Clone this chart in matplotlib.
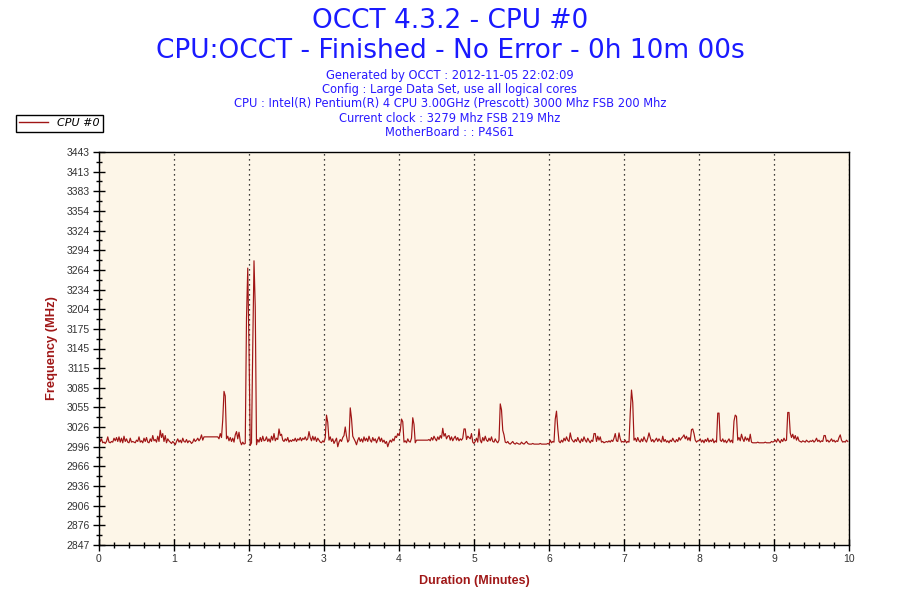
import numpy as np
import matplotlib.pyplot as plt
from matplotlib.lines import Line2D
from matplotlib.ticker import MultipleLocator

# --- data (one sample per second, 10 minutes) ---
title_lines = ['OCCT 4.3.2 - CPU #0',
               'CPU:OCCT - Finished - No Error - 0h 10m 00s']
info_lines = ['Generated by OCCT : 2012-11-05 22:02:09',
              'Config : Large Data Set, use all logical cores',
              'CPU : Intel(R) Pentium(R) 4 CPU 3.00GHz (Prescott) 3000 Mhz FSB 200 Mhz',
              'Current clock : 3279 Mhz FSB 219 Mhz',
              'MotherBoard : : P4S61']
series_name = 'CPU #0'
y_tick_labels = ['2847', '2876', '2906', '2936', '2966', '2996', '3026', '3055',
                 '3085', '3115', '3145', '3175', '3204', '3234', '3264', '3294',
                 '3324', '3354', '3383', '3413', '3443']

freq_mhz = [
    # minute 0
    3011, 3004, 3008, 3002, 3003, 3001, 3004, 3011, 3003, 3002,
    3004, 3003, 3009, 3005, 3010, 3004, 3011, 3003, 3009, 3002,
    3012, 3004, 3008, 3003, 3002, 3009, 3003, 3004, 3003, 3002,
    3006, 3004, 3011, 3003, 3005, 3002, 3009, 3004, 3010, 3003,
    3002, 3008, 3004, 3013, 3005, 3007, 3003, 3012, 3004, 3021,
    3010, 3016, 3004, 3013, 3002, 3008, 3005, 3003, 3001, 3004,
    # minute 1
    3002, 2999, 3004, 3008, 3003, 3006, 3002, 3009, 3004, 3003,
    3007, 3002, 3005, 3004, 3001, 3003, 3008, 3004, 3006, 3009,
    3005, 3008, 3014, 3006, 3011, 3011, 3011, 3011, 3011, 3011,
    3011, 3011, 3011, 3011, 3011, 3011, 3008, 3016, 3010, 3037,
    3080, 3073, 3008, 3012, 3005, 3010, 3004, 3009, 3003, 3014,
    3019, 3008, 3018, 3004, 2999, 3003, 3000, 3001, 3191, 3267,
    # minute 2
    3146, 2998, 3002, 3147, 3278, 3208, 2999, 3007, 3003, 3010,
    3004, 3012, 3005, 3006, 3011, 3004, 3008, 3003, 3012, 3006,
    3016, 3005, 3009, 3007, 3023, 3013, 3015, 3006, 3004, 3008,
    3005, 3010, 3003, 3006, 3004, 3007, 3005, 3009, 3004, 3008,
    3006, 3010, 3005, 3009, 3007, 3011, 3006, 3008, 3019, 3010,
    3005, 3012, 3006, 3011, 3004, 3009, 3006, 3003, 3002, 3005,
    # minute 3
    3003, 3010, 3044, 3033, 3006, 3011, 3004, 3008, 3001, 3005,
    3009, 2996, 3003, 3007, 3004, 3010, 3013, 3026, 3012, 3003,
    3006, 3055, 3039, 3012, 3008, 3004, 2999, 3006, 3010, 3004,
    3008, 3003, 3011, 3005, 3009, 3004, 3012, 3006, 3003, 3010,
    3005, 3008, 3002, 3007, 3011, 3004, 3009, 3003, 3006, 3001,
    3004, 2996, 3002, 3006, 3003, 3008, 3005, 3012, 3010, 3016,
    # minute 4
    3013, 3020, 3038, 3034, 3003, 3005, 3002, 3008, 3004, 3003,
    3009, 3040, 3030, 3002, 3006, 3006, 3006, 3006, 3006, 3006,
    3006, 3006, 3006, 3006, 3007, 3005, 3010, 3006, 3012, 3008,
    3005, 3011, 3007, 3013, 3009, 3024, 3012, 3016, 3008, 3012,
    3013, 3006, 3011, 3005, 3009, 3012, 3006, 3010, 3005, 3008,
    3006, 3009, 3023, 3023, 3007, 3012, 3010, 3008, 3016, 3003,
    # minute 5
    3001, 3004, 3009, 3003, 3023, 3006, 3002, 3010, 3005, 3012,
    3006, 3004, 3009, 3005, 3011, 3004, 3003, 3008, 3004, 3002,
    3006, 3061, 3052, 3021, 3014, 3003, 3002, 3004, 3001, 3000,
    3002, 3004, 3001, 3000, 3002, 3001, 3000, 3000, 3003, 3001,
    3000, 3002, 3004, 3001, 3000, 3000, 3000, 3001, 3000, 3000,
    3000, 3000, 3000, 3001, 3000, 3000, 3000, 3000, 3000, 3001,
    # minute 6
    3000, 3006, 3002, 3004, 3003, 3038, 3050, 3024, 3004, 3002,
    3006, 3003, 3009, 3005, 3011, 3006, 3004, 3017, 3008, 3005,
    3003, 3007, 3004, 3010, 3005, 3002, 3008, 3004, 3011, 3006,
    3003, 3009, 3005, 3002, 3006, 3004, 3016, 3016, 3004, 3012,
    3006, 3011, 3003, 3004, 3002, 3003, 3004, 3003, 3005, 3003,
    3006, 3004, 3009, 3016, 3005, 3004, 3017, 3008, 3003, 3004,
    # minute 7
    3003, 3006, 3002, 3004, 3003, 3047, 3082, 3063, 3006, 3009,
    3004, 3010, 3005, 3003, 3008, 3004, 3011, 3006, 3003, 3009,
    3017, 3010, 3004, 3007, 3003, 3006, 3009, 3004, 3008, 3005,
    3003, 3012, 3004, 3007, 3003, 3005, 3002, 3006, 3004, 3009,
    3005, 3003, 3007, 3004, 3010, 3006, 3009, 3011, 3014, 3008,
    3012, 3006, 3010, 3005, 3022, 3023, 3016, 3006, 3003, 3005,
    # minute 8
    3005, 3008, 3003, 3006, 3002, 3007, 3004, 3009, 3003, 3006,
    3004, 3008, 3002, 3005, 3003, 3047, 3047, 3006, 3004, 3008,
    3003, 3006, 3002, 3005, 3008, 3003, 3006, 3002, 3035, 3044,
    3042, 3006, 3010, 3005, 3015, 3008, 3004, 3011, 3006, 3009,
    3004, 3015, 3003, 3002, 3002, 3002, 3002, 3003, 3002, 3002,
    3002, 3002, 3002, 3003, 3002, 3002, 3002, 3002, 3004, 3003,
    # minute 9
    3004, 3006, 3003, 3008, 3005, 3002, 3007, 3004, 3009, 3005,
    3006, 3048, 3048, 3017, 3010, 3015, 3008, 3013, 3006, 3011,
    3005, 3004, 3003, 3005, 3004, 3003, 3006, 3004, 3003, 3005,
    3004, 3006, 3003, 3005, 3009, 3004, 3006, 3003, 3005, 3004,
    3013, 3013, 3004, 3006, 3003, 3005, 3008, 3004, 3006, 3003,
    3005, 3004, 3010, 3014, 3006, 3003, 3004, 3003, 3006, 3004,
]
minutes = np.arange(len(freq_mhz)) / 60.0

line_color = '#a01515'
label_color = '#a01818'
title_color = '#1a1aff'

fig = plt.figure(figsize=(9, 6), dpi=100)
fig.patch.set_facecolor('white')
ax = fig.add_axes([99 / 900, 55 / 600, 750 / 900, 393 / 600])
ax.set_facecolor('#fdf6e8')

ax.plot(minutes, freq_mhz, color=line_color, lw=0.85)

ax.set_xlim(0, 10)
ax.set_ylim(2847, 3443)
ax.xaxis.set_major_locator(MultipleLocator(1))
ax.xaxis.set_minor_locator(MultipleLocator(0.2))
yt = np.linspace(2847, 3443, len(y_tick_labels))
ax.set_yticks(yt)
ax.set_yticklabels(y_tick_labels)
ax.set_yticks((yt[:-1] + yt[1:]) / 2, minor=True)

ax.tick_params(which='major', direction='inout', length=9, width=1, pad=2,
               labelsize=7.5, labelcolor='#333333', color='black')
ax.tick_params(which='minor', direction='inout', length=4, width=1, color='black')
for lab in ax.get_xticklabels() + ax.get_yticklabels():
    lab.set_family('Liberation Sans')

ax.grid(axis='x', which='major', color='black', linestyle=(0, (1, 3)), lw=0.9)
for sp in ax.spines.values():
    sp.set_color('black')
    sp.set_linewidth(1)

ax.set_xlabel('Duration (Minutes)', fontsize=9, fontweight='bold',
              color=label_color, family='Liberation Sans', labelpad=8)
ax.set_ylabel('Frequency (MHz)', fontsize=9.3, fontweight='bold',
              color=label_color, family='Liberation Sans', labelpad=6)

# titles
fig.text(0.5, 1 - 21 / 600, title_lines[0], ha='center', va='center',
         fontsize=19, color=title_color)
fig.text(0.5, 1 - 51 / 600, title_lines[1], ha='center', va='center',
         fontsize=19, color=title_color)
for i, s in enumerate(info_lines):
    fig.text(0.5, 1 - (76 + 14 * i) / 600, s, ha='center', va='center',
             fontsize=8.3, color='#2a1aff')

handle = Line2D([], [], color=line_color, lw=1)
leg = fig.legend([handle], [series_name], loc='upper left',
                 bbox_to_anchor=(16 / 900, 1 - 115 / 600), borderaxespad=0,
                 fancybox=False, framealpha=1, edgecolor='black',
                 borderpad=0.3, handlelength=2.6, handletextpad=0.8,
                 prop={'size': 8, 'style': 'italic'})
leg.get_frame().set_linewidth(1)

fig.savefig('out.png', dpi=100)
